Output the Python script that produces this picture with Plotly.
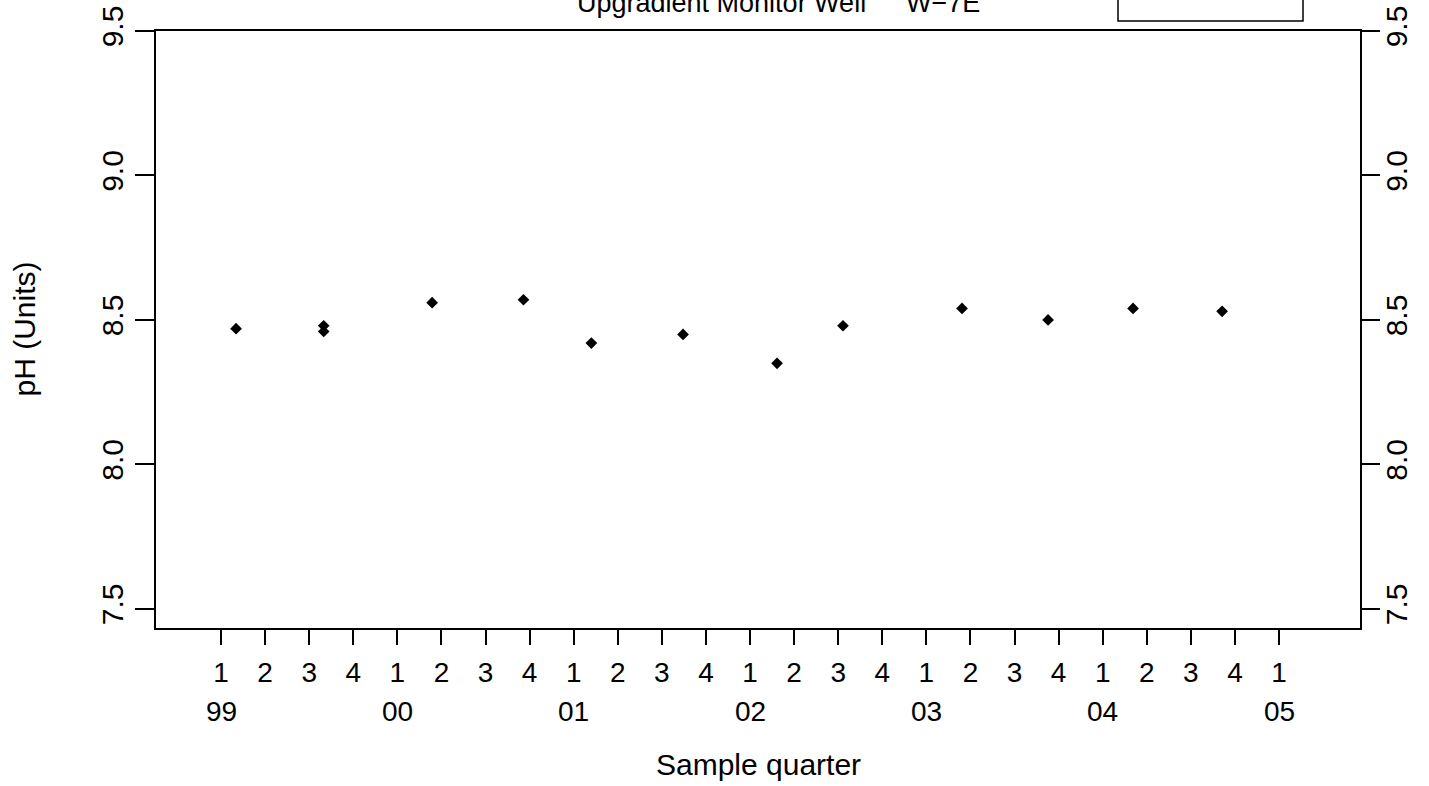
import plotly.graph_objects as go

# ---- data (decimal year of sample, pH value) ----
sample_time = [1999.085, 1999.582, 1999.582, 2000.197, 2000.715, 2001.100,
               2001.620, 2002.153, 2002.527, 2003.202, 2003.690, 2004.172, 2004.677]
ph_values = [8.47, 8.48, 8.46, 8.56, 8.57, 8.42,
             8.45, 8.35, 8.48, 8.54, 8.50, 8.54, 8.53]

quarter_ticks = [1999 + 0.25 * i for i in range(25)]
quarter_labels = ["1", "2", "3", "4"] * 6 + ["1"]
year_positions = [1999, 2000, 2001, 2002, 2003, 2004, 2005]
year_labels = ["99", "00", "01", "02", "03", "04", "05"]
y_ticks = [7.5, 8.0, 8.5, 9.0, 9.5]
y_tick_labels = ["7.5", "8.0", "8.5", "9.0", "9.5"]

title_left = "Upgradient Monitor Well"
title_right = "W\u22127E"
x_title = "Sample quarter"
y_title = "pH (Units)"

FONT = "Liberation Sans, Arial, Helvetica, sans-serif"
W, H = 1429, 786
L, R, T, B = 156, 69, 31, 158
PW = W - L - R
PH = H - T - B

fig = go.Figure()
fig.add_trace(go.Scatter(
    x=sample_time, y=ph_values, mode="markers",
    marker=dict(symbol="diamond", size=9, color="black", line=dict(width=0)),
    showlegend=False, hoverinfo="x+y"))
# invisible trace to activate right axis
fig.add_trace(go.Scatter(x=[sample_time[0]], y=[ph_values[0]], yaxis="y2",
                         mode="markers", marker=dict(opacity=0), showlegend=False,
                         hoverinfo="skip"))

yr = [7.434, 9.5]
fig.update_layout(
    width=W, height=H,
    margin=dict(l=L, r=R, t=T, b=B, pad=0, autoexpand=False),
    paper_bgcolor="white", plot_bgcolor="white",
    font=dict(family=FONT, color="black"),
    xaxis=dict(range=[1998.631, 2005.459], tickmode="array",
               tickvals=quarter_ticks, ticktext=quarter_labels,
               ticks="outside", ticklen=15, tickwidth=1.5, tickcolor="black",
               tickfont=dict(size=28, family=FONT, color="black"),
               ticklabelstandoff=4,
               showline=True, linecolor="black", linewidth=1.5, mirror=True,
               showgrid=False, zeroline=False, automargin=False),
    yaxis=dict(range=yr, tickmode="array", tickvals=y_ticks, ticktext=y_tick_labels,
               ticks="outside", ticklen=19, tickwidth=1.5, tickcolor="black",
               tickangle=-90, tickfont=dict(size=30, family=FONT, color="black"),
               showline=True, linecolor="black", linewidth=1.5, mirror=True,
               showgrid=False, zeroline=False, automargin=False),
    yaxis2=dict(range=yr, overlaying="y", side="right", tickmode="array",
                tickvals=y_ticks, ticktext=y_tick_labels,
                ticks="outside", ticklen=19, tickwidth=1.5, tickcolor="black",
                tickangle=-90, tickfont=dict(size=30, family=FONT, color="black"),
                ticklabelstandoff=-9,
                showline=False, showgrid=False, zeroline=False, automargin=False),
)

ann = []
# title (partly cut off at top as in reference)
ann.append(dict(text=title_left, xref="paper", yref="paper", x=0, y=1,
                xanchor="left", yanchor="bottom", xshift=578 - L - 3, yshift=11,
                showarrow=False, font=dict(size=27, family=FONT, color="black")))
ann.append(dict(text=title_right, xref="paper", yref="paper", x=0, y=1,
                xanchor="left", yanchor="bottom", xshift=907 - L - 3, yshift=11,
                showarrow=False, font=dict(size=27, family=FONT, color="black")))
# year labels
for xp, lab in zip(year_positions, year_labels):
    ann.append(dict(text=lab, xref="x", yref="paper", x=xp, y=0,
                    xanchor="center", yanchor="middle", yshift=-(711 - (T + PH)),
                    showarrow=False, font=dict(size=28, family=FONT, color="black")))
# axis titles
ann.append(dict(text=x_title, xref="paper", yref="paper", x=0.5, y=0,
                xanchor="center", yanchor="middle", yshift=-(764 - (T + PH)),
                showarrow=False, font=dict(size=30, family=FONT, color="black")))
ann.append(dict(text=y_title, xref="paper", yref="paper", x=0, y=0.5,
                xanchor="center", yanchor="middle", xshift=24 - L, textangle=-90,
                showarrow=False, font=dict(size=30, family=FONT, color="black")))
fig.update_layout(annotations=ann)

# legend box partly cut off at top
fig.add_shape(type="rect", xref="paper", yref="paper",
              x0=(1118 - L) / PW, x1=(1303 - L) / PW,
              y0=(T + PH - 21) / PH, y1=(T + PH + 20) / PH,
              line=dict(color="black", width=1.5), fillcolor="rgba(0,0,0,0)")

fig.write_html("out.html", config={"displayModeBar": False},
               post_script="document.body.style.margin='0';document.body.style.padding='0';")
